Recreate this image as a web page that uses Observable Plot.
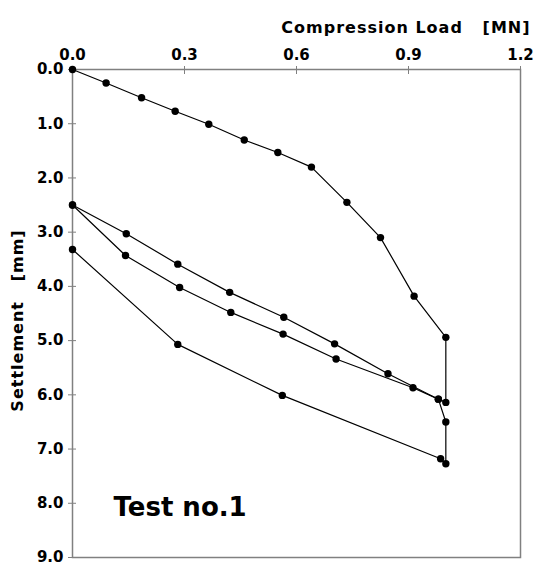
<!DOCTYPE html>
<html>
<head>
<meta charset="utf-8">
<script src="https://cdn.jsdelivr.net/npm/d3@7"></script>
<script src="https://cdn.jsdelivr.net/npm/@observablehq/plot@0.6"></script>
<style>
  html, body { margin: 0; padding: 0; background: #fff; }
  #chart svg { display: block; font-family: "Comic Sans MS", "DejaVu Sans", sans-serif; font-weight: bold; }
  #chart svg .spaced text { letter-spacing: 1px; }
</style>
</head>
<body>
<div id="chart"></div>
<script>
// Tick values
const xTicks = [0, 0.3, 0.6, 0.9, 1.2];
const yTicks = [0, 1, 2, 3, 4, 5, 6, 7, 8, 9];

// Cycle 1: first loading, hold at max load, unloading
const cycle1Load = [0, 0.09, 0.185, 0.275, 0.365, 0.46, 0.55, 0.64, 0.735, 0.825, 0.915, 1.0,
                    1.0, 0.98, 0.845, 0.702, 0.566, 0.421, 0.282, 0.144, 0];
const cycle1Settle = [0, 0.25, 0.52, 0.77, 1.01, 1.30, 1.53, 1.80, 2.45, 3.10, 4.18, 4.94,
                      6.14, 6.08, 5.61, 5.06, 4.57, 4.11, 3.59, 3.03, 2.50];

// Cycle 2: reloading, hold at max load, final unloading
const cycle2Load = [0, 0.142, 0.287, 0.424, 0.564, 0.706, 0.912, 0.98, 1.0,
                    1.0, 0.986, 0.562, 0.282, 0];
const cycle2Settle = [2.50, 3.43, 4.02, 4.48, 4.88, 5.34, 5.87, 6.08, 6.50,
                      7.27, 7.18, 6.01, 5.07, 3.32];

const data = [
  ...cycle1Load.map((x, i) => ({cycle: "1", load: x, settle: cycle1Settle[i]})),
  ...cycle2Load.map((x, i) => ({cycle: "2", load: x, settle: cycle2Settle[i]}))
];

const fmt = d3.format(".1f");
const grey = "#808080";

const chart = Plot.plot({
  width: 537,
  height: 568,
  marginLeft: 72,
  marginRight: 17,
  marginTop: 69,
  marginBottom: 11,
  x: {domain: [0, 1.2]},
  y: {domain: [0, 9], reverse: true},
  marks: [
    Plot.frame({stroke: grey, strokeWidth: 1.5}),
    Plot.axisX(xTicks, {anchor: "top", tickSize: 4, tickPadding: 6, tickFormat: fmt, label: null,
                        stroke: grey, fill: "black", fontSize: 15, fontWeight: "bold"}),
    Plot.axisX(xTicks, {anchor: "top", tickSize: -4, tickFormat: () => "", label: null, stroke: grey}),
    Plot.axisY(yTicks, {anchor: "left", tickSize: 4, tickPadding: 5, tickFormat: fmt, label: null,
                        stroke: grey, fill: "black", fontSize: 15, fontWeight: "bold"}),
    Plot.axisY(yTicks, {anchor: "left", tickSize: -4, tickFormat: () => "", label: null, stroke: grey}),
    Plot.line(data, {x: "load", y: "settle", z: "cycle", stroke: "black", strokeWidth: 1.2}),
    Plot.dot(data, {x: "load", y: "settle", r: 3.7, fill: "black", stroke: "none"}),
    Plot.text(["Compression Load\u00a0\u00a0\u00a0[MN]"], {frameAnchor: "top-right", dx: 10, dy: -48,
              textAnchor: "end", fontSize: 16, fontWeight: "bold", fill: "black", className: "spaced"}),
    Plot.text(["Settlement\u00a0\u00a0\u00a0[mm]"], {frameAnchor: "left", rotate: -90, dx: -55, dy: 7,
              textAnchor: "middle", fontSize: 16, fontWeight: "bold", fill: "black", className: "spaced"}),
    Plot.text(["Test no.1"], {frameAnchor: "bottom-left", dx: 41, dy: -42, textAnchor: "start",
              lineAnchor: "bottom", fontSize: 26, fontWeight: "bold", fill: "black"})
  ]
});
document.getElementById("chart").appendChild(chart);
</script>
</body>
</html>
